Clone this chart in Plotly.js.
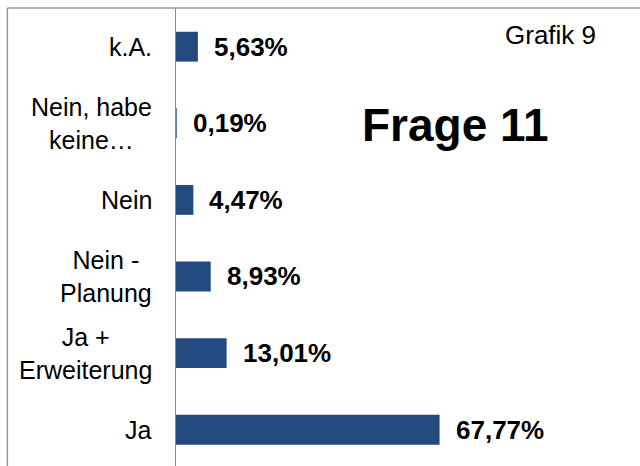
<!DOCTYPE html>
<html>
<head>
<meta charset="utf-8">
<script src="https://cdn.plot.ly/plotly-3.0.1.min.js"></script>
<style>html,body{margin:0;padding:0;background:#fff;}#chart{width:640px;height:466px;}</style>
</head>
<body>
<div id="chart"></div>
<script>
// Data (bottom to top)
var categories = ["Ja", "Ja + Erweiterung", "Nein - Planung", "Nein", "Nein, habe keine…", "k.A."];
var categoryLabels = ["Ja", "Ja +<br>Erweiterung", "Nein -<br>Planung", "Nein", "Nein, habe<br>keine…", "k.A."];
var values = [67.77, 13.01, 8.93, 4.47, 0.19, 5.63];
var chartTitle = "Frage 11";
var chartTag = "Grafik 9";

var FONT = "Liberation Sans, Arial, sans-serif";

function fmt(v) { return v.toFixed(2).replace('.', ',') + '%'; }

var trace = {
  type: 'bar',
  orientation: 'h',
  y: categories,
  x: values,
  width: 0.39,
  marker: { color: '#224a7e', line: { width: 0 } },
  hoverinfo: 'skip'
};

var annotations = [];
for (var i = 0; i < categories.length; i++) {
  annotations.push({
    xref: 'paper', yref: 'y', x: -0.048, y: categories[i],
    text: categoryLabels[i], showarrow: false,
    xanchor: 'right', yanchor: 'middle', align: 'center',
    font: { family: FONT, size: 25, color: '#000' }
  });
  annotations.push({
    xref: 'x', yref: 'y', x: values[i], y: categories[i],
    text: fmt(values[i]), showarrow: false,
    xanchor: 'left', yanchor: 'middle', xshift: 14,
    font: { family: FONT, size: 26, color: '#000', weight: 'bold' }
  });
}
annotations.push({
  xref: 'paper', yref: 'paper', x: 0.6034, y: 0.745,
  text: '<b>' + chartTitle + '</b>', showarrow: false,
  xanchor: 'center', yanchor: 'middle',
  font: { family: FONT, size: 46, color: '#000' }
});
annotations.push({
  xref: 'paper', yref: 'paper', x: 0.705, y: 0.94,
  text: chartTag, showarrow: false,
  xanchor: 'left', yanchor: 'middle',
  font: { family: FONT, size: 26, color: '#000' }
});

var layout = {
  width: 640, height: 466,
  margin: { l: 176, r: 0, t: 8, b: 0, pad: 0 },
  paper_bgcolor: '#fff', plot_bgcolor: '#fff',
  showlegend: false,
  xaxis: { range: [0, 119.3], showgrid: false, zeroline: false, showticklabels: false, showline: false, fixedrange: true },
  yaxis: { type: 'category', range: [-0.474, 5.505], showgrid: false, zeroline: false, showticklabels: false,
           showline: true, linecolor: '#8a8a8a', linewidth: 1, ticks: '', fixedrange: true },
  annotations: annotations,
  shapes: [
    { type: 'line', xref: 'paper', yref: 'paper', x0: -0.3635, x1: 1.01, y0: 1, y1: 1, line: { color: '#999', width: 1.5 } },
    { type: 'line', xref: 'paper', yref: 'paper', x0: -0.3635, x1: -0.3635, y0: -0.02, y1: 1, line: { color: '#999', width: 1.5 } }
  ]
};

Plotly.newPlot('chart', [trace], layout, { staticPlot: true, displayModeBar: false });
</script>
</body>
</html>
